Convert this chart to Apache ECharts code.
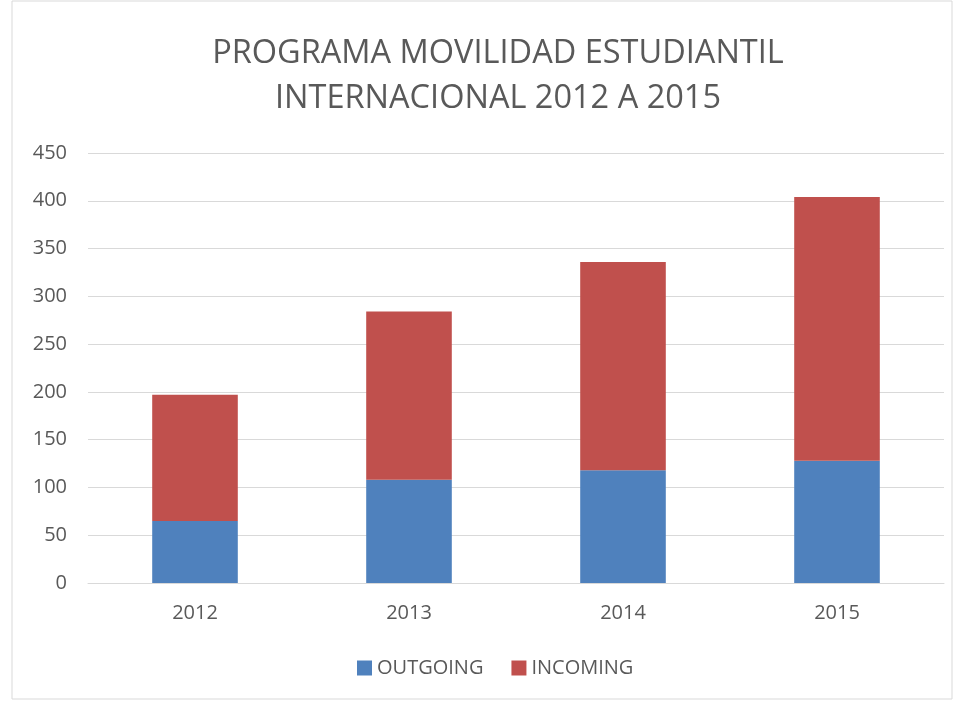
<!DOCTYPE html>
<html>
<head>
<meta charset="utf-8">
<script src="https://cdn.jsdelivr.net/npm/echarts@6/dist/echarts.min.js"></script>
<style>
  html, body { margin: 0; padding: 0; background: #fff; }
  #chart { width: 955px; height: 702px; }
</style>
</head>
<body>
<div id="chart"></div>
<script>
// datos
const years = ['2012', '2013', '2014', '2015'];
const outgoing = [65, 108, 118, 128];
const incoming = [132, 176, 218, 276];
const yTicks = [0, 450, 50]; // min, max, intervalo

const textColor = '#595959';
const font = 'Open Sans';

const myChart = echarts.init(document.getElementById('chart'));
myChart.setOption({
  animation: false,
  title: {
    text: 'PROGRAMA MOVILIDAD ESTUDIANTIL\nINTERNACIONAL 2012 A 2015',
    left: 493,
    textAlign: 'center',
    top: 26,
    textStyle: { color: textColor, fontFamily: font, fontWeight: 'normal', fontSize: 32.5, lineHeight: 45 }
  },
  graphic: [{
    type: 'rect',
    shape: { x: 12, y: 1, width: 940, height: 698 },
    style: { fill: 'none', stroke: '#d9d9d9', lineWidth: 1 },
    silent: true
  }],
  legend: {
    bottom: 19,
    left: 352,
    itemWidth: 15,
    itemHeight: 15,
    itemGap: 28,
    icon: 'rect',
    textStyle: { color: textColor, fontFamily: font, fontSize: 20 },
    data: ['OUTGOING', 'INCOMING']
  },
  grid: { left: 88, right: 11, top: 153, bottom: 119, containLabel: false },
  xAxis: {
    type: 'category',
    data: years,
    axisLine: { lineStyle: { color: '#d9d9d9' } },
    axisTick: { show: false },
    axisLabel: { color: textColor, fontFamily: font, fontSize: 20, margin: 20 }
  },
  yAxis: {
    type: 'value',
    min: yTicks[0],
    max: yTicks[1],
    interval: yTicks[2],
    axisLine: { show: false },
    axisTick: { show: false },
    splitLine: { lineStyle: { color: '#d9d9d9', width: 1 } },
    axisLabel: { color: textColor, fontFamily: font, fontSize: 20, margin: 21 }
  },
  series: [
    {
      name: 'OUTGOING',
      type: 'bar',
      stack: 'total',
      barWidth: '40%',
      itemStyle: { color: '#4f81bd' },
      data: outgoing
    },
    {
      name: 'INCOMING',
      type: 'bar',
      stack: 'total',
      barWidth: '40%',
      itemStyle: { color: '#c0504d' },
      data: incoming
    }
  ]
});
</script>
</body>
</html>
